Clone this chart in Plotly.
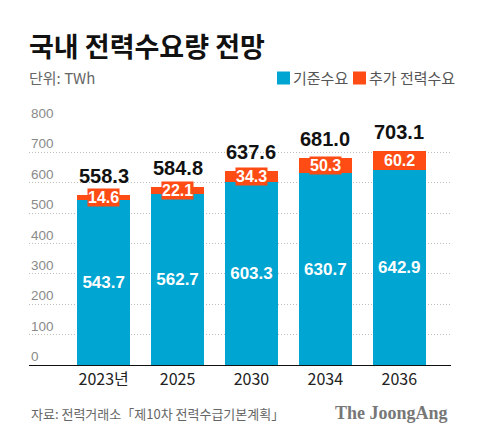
import plotly.graph_objects as go

categories = ["2023년", "2025", "2030", "2034", "2036"]
base_demand = [543.7, 562.7, 603.3, 630.7, 642.9]
extra_demand = [14.6, 22.1, 34.3, 50.3, 60.2]
totals = [558.3, 584.8, 637.6, 681.0, 703.1]
y_ticks = [0, 100, 200, 300, 400, 500, 600, 700, 800]

BLUE = "#00A5D2"
ORANGE = "#FF4B14"
FONT = "Liberation Sans, Noto Sans CJK KR, sans-serif"
KFONT = "Noto Sans CJK KR, Liberation Sans, sans-serif"

# page body has an 8px margin: work in screen pixels and shift
OFF = 8
W, H = 480 - OFF, 442 - OFF
L = 29 - OFF
T = 122 - OFF
R = W - (451 - OFF)
B = H - (365 - OFF)
pw, ph = W - L - R, H - T - B


def px(x):
    return (x - OFF - L) / pw


def py(y):
    return (H - B - (y - OFF)) / ph


fig = go.Figure()
fig.add_trace(go.Bar(
    x=categories, y=base_demand, name="기준수요", marker_color=BLUE,
    marker_line_width=0, width=0.72,
    text=[f"<b>{v:.1f}</b>" for v in base_demand], textposition="inside",
    insidetextanchor="middle", textangle=0,
    textfont=dict(color="white", size=17, family=FONT),
    showlegend=False, cliponaxis=False,
))
fig.add_trace(go.Bar(
    x=categories, y=extra_demand, name="추가 전력수요", marker_color=ORANGE,
    marker_line_width=0, width=0.72, showlegend=False, cliponaxis=False,
))

annotations = []
for i, (b, e, t) in enumerate(zip(base_demand, extra_demand, totals)):
    annotations.append(dict(
        x=i, y=b + e / 2, xref="x", yref="y", text=f"<b>{e:.1f}</b>", showarrow=False,
        font=dict(color="white", size=16, family=FONT), bgcolor=ORANGE,
        borderpad=0, yanchor="middle",
    ))
    annotations.append(dict(
        x=i, y=t, xref="x", yref="y", text=f"<b>{t:.1f}</b>", showarrow=False,
        font=dict(color="#111111", size=20, family=FONT), yanchor="middle",
        yshift=19,
    ))

# y tick labels sitting above the grid lines
for v in y_ticks:
    annotations.append(dict(
        x=0, y=v, xref="paper", yref="y", text=str(v), showarrow=False,
        xanchor="left", yanchor="bottom", yshift=-1,
        font=dict(size=13.5, color="#8A8A8A", family=FONT),
    ))

# header / footer texts
annotations += [
    dict(x=px(27), y=py(45), xref="paper", yref="paper", text="<b>국내 전력수요량 전망</b>",
         showarrow=False, xanchor="left", yanchor="middle",
         font=dict(size=27, color="#111111", family=KFONT)),
    dict(x=px(27), y=py(78), xref="paper", yref="paper", text="단위: TWh",
         showarrow=False, xanchor="left", yanchor="middle",
         font=dict(size=15, color="#666666", family=KFONT)),
    dict(x=px(291), y=py(78), xref="paper", yref="paper", text="기준수요",
         showarrow=False, xanchor="left", yanchor="middle",
         font=dict(size=15, color="#555555", family=KFONT)),
    dict(x=px(367), y=py(78), xref="paper", yref="paper", text="추가 전력수요",
         showarrow=False, xanchor="left", yanchor="middle",
         font=dict(size=15, color="#555555", family=KFONT)),
    dict(x=px(29), y=py(413), xref="paper", yref="paper",
         text="자료: 전력거래소「제10차 전력수급기본계획」",
         showarrow=False, xanchor="left", yanchor="middle",
         font=dict(size=13, color="#666666", family=KFONT)),
    dict(x=px(450), y=py(413), xref="paper", yref="paper", text="<b>The JoongAng</b>",
         showarrow=False, xanchor="right", yanchor="middle",
         font=dict(size=18, color="#777777", family="Liberation Serif, DejaVu Serif, serif")),
]

shapes = [
    dict(type="rect", xref="paper", yref="paper", x0=px(277), x1=px(290),
         y0=py(84.5), y1=py(71.5), fillcolor=BLUE, line_width=0),
    dict(type="rect", xref="paper", yref="paper", x0=px(353), x1=px(366),
         y0=py(84.5), y1=py(71.5), fillcolor=ORANGE, line_width=0),
]

fig.update_layout(
    barmode="stack",
    width=W, height=H,
    margin=dict(l=L, r=R, t=T, b=B, pad=0),
    paper_bgcolor="white", plot_bgcolor="white",
    annotations=annotations, shapes=shapes,
    font=dict(family=FONT),
    xaxis=dict(
        type="category", range=[-1.01, 4.70], showgrid=False,
        showline=True, linecolor="#111111", linewidth=1.3, ticks="",
        tickfont=dict(size=16, color="#222222", family=KFONT),
        fixedrange=True,
    ),
    yaxis=dict(
        range=[0, 800], tickvals=y_ticks, showticklabels=False,
        showgrid=True, gridcolor="#BDBDBD",
        griddash="1px,2px", gridwidth=1, zeroline=False, showline=False,
        fixedrange=True,
    ),
)

fig.write_html("out.html")
